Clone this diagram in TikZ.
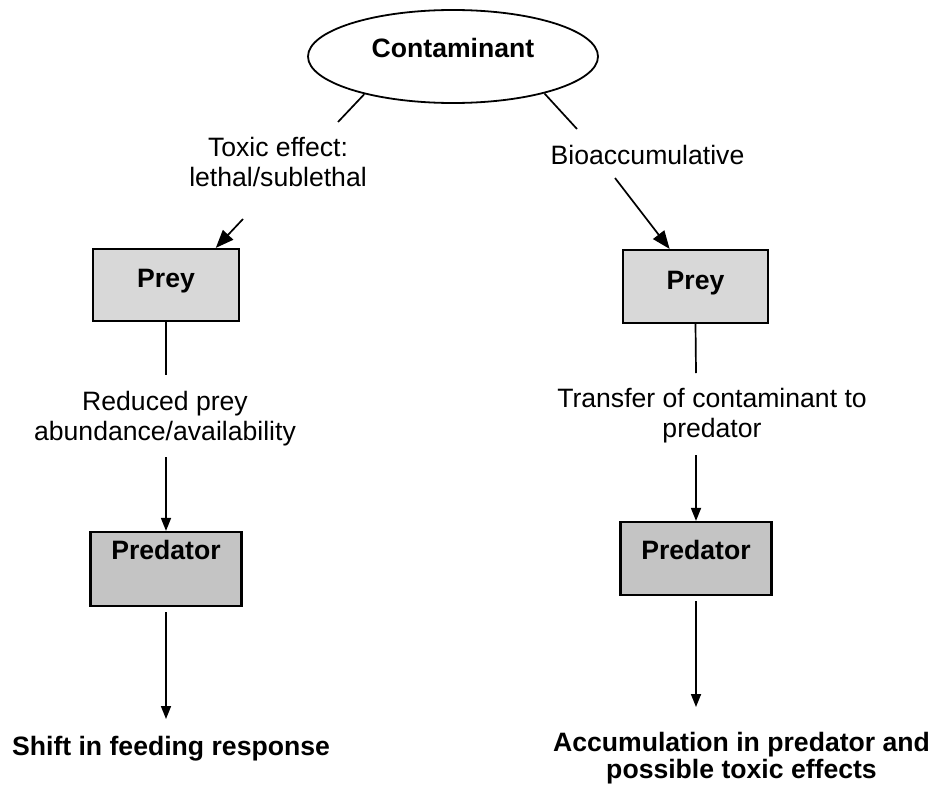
\documentclass[tikz,border=0pt]{standalone}
\usepackage{fontspec}
\setmainfont{Liberation Sans}
\usetikzlibrary{arrows.meta,shapes.geometric,calc}
\definecolor{preyfill}{RGB}{216,216,216}
\definecolor{predfill}{RGB}{196,196,196}
\begin{document}
\begin{tikzpicture}[x=1pt,y=-1pt,
  every node/.style={font=\fontsize{26.6pt}{30pt}\selectfont},
  lbl/.style={align=center,inner sep=0pt},
  boldlbl/.style={align=center,inner sep=0pt,font=\fontsize{26.6pt}{27pt}\selectfont\bfseries},
  boxbase/.style={draw,line width=2.2pt,inner sep=0pt,font=\fontsize{26.6pt}{30pt}\selectfont\bfseries},
  preybox/.style={boxbase,fill=preyfill,minimum width=146pt,minimum height=72pt},
  predbox/.style={boxbase,fill=predfill,minimum width=151pt,minimum height=74pt},
  conn/.style={draw,line width=1.7pt},
  varr/.style={conn,-{Triangle[length=13pt,width=10pt]}},
  darr/.style={conn,-{Triangle[length=18pt,width=14pt]}}
]
\useasboundingbox (0,0) rectangle (941,784);

% contaminant ellipse
\node[draw,ellipse,line width=1.8pt,minimum width=290pt,minimum height=93pt,inner sep=0pt,font=\fontsize{26.6pt}{30pt}\selectfont\bfseries]
  (cont) at (453,56.5) {\raisebox{-1.1pt}[0pt][0pt]{Contaminant}};

% branch labels
\node[lbl] (tox) at (278,162) {Toxic effect:\\lethal/sublethal};
\node[lbl] (bio) at (647.5,155) {Bioaccumulative};

% boxes
\node[preybox] (preyL) at (166,285) {\raisebox{-2.6pt}[0pt][0pt]{Prey}};
\node[preybox,minimum width=145pt,minimum height=73pt] (preyR) at (695.5,286.5) {\raisebox{-3.1pt}[0pt][0pt]{Prey}};
\node[predbox] (predL) at (166,569) {\raisebox{9.4pt}[0pt][0pt]{Predator}};
\node[predbox,minimum height=73pt] (predR) at (696,558.5) {\raisebox{-1.1pt}[0pt][0pt]{Predator}};

% middle labels
\node[lbl] (redL) at (165,419) {Reduced prey\\abundance/availability};
\node[lbl] (trR) at (712,416) {Transfer of contaminant to\\predator};

% bottom labels
\node[boldlbl] (shift) at (171,749) {Shift in feeding response};
\node[boldlbl] (accum) at (741.5,758) {Accumulation in predator and\\possible toxic effects};

% coordinates for free connector ends
\coordinate (tl) at (338,122);
\coordinate (tr) at (577,129);
\coordinate (dl) at (243,219);
\coordinate (dr) at (615,178);
\coordinate (rL1) at (166,375);
\coordinate (rL2) at (166,457);
\coordinate (rR1) at (696,373);
\coordinate (rR2) at (696,455);
\coordinate (sL) at (166,719);
\coordinate (aR) at (696,707);

% connectors
\draw[conn] (cont.203) -- (tl);
\draw[conn] (cont.338) -- (tr);
\draw[darr] (dl) -- ($(preyL.north west)!0.836!(preyL.north east)$);
\draw[darr] (dr) -- ($(preyR.north west)!0.324!(preyR.north east)$);
\draw[conn] (preyL.south) -- (rL1);
\draw[varr] (rL2) -- (predL.north);
\draw[conn] (preyR.south) -- (rR1);
\draw[varr] (rR2) -- (predR.north);
\draw[varr,shorten <=5pt] (predL.south) -- (sL);
\draw[varr,shorten <=5pt] (predR.south) -- (aR);
\end{tikzpicture}
\end{document}
